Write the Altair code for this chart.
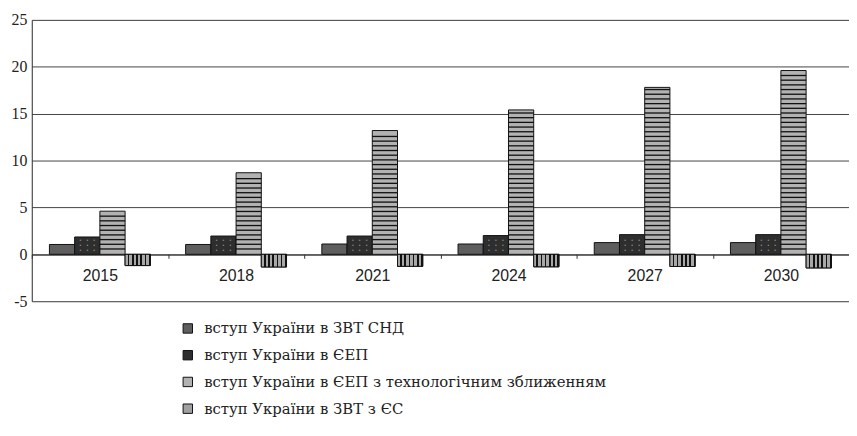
import altair as alt
import numpy as np
import pandas as pd

years = ["2015", "2018", "2021", "2024", "2027", "2030"]
series_names = [
    "вступ України в ЗВТ СНД",
    "вступ України в ЄЕП",
    "вступ України в ЄЕП з технологічним зближенням",
    "вступ України в ЗВТ з ЄС",
]
s_cis = [1.05, 1.05, 1.1, 1.1, 1.25, 1.25]
s_cep = [1.85, 1.95, 1.95, 2.0, 2.1, 2.1]
s_cep_tech = [4.6, 8.7, 13.2, 15.4, 17.8, 19.6]
s_eu = [-1.2, -1.35, -1.28, -1.33, -1.3, -1.45]
y_ticks = [-5, 0, 5, 10, 15, 20, 25]

all_series = [s_cis, s_cep, s_cep_tech, s_eu]
rows = []
for name, vals in zip(series_names, all_series):
    for yr, v in zip(years, vals):
        rows.append({"year": yr, "series": name, "value": v})
df = pd.DataFrame(rows)

# decorative hatch lines for the horizontally striped series
stripe_rows = []
for yr, v in zip(years, s_cep_tech):
    for lv in np.arange(0.5, v - 0.2, 0.5):
        stripe_rows.append({"year": yr, "series": series_names[2], "lv": float(lv), "lv2": float(lv) + 0.14})
stripes = pd.DataFrame(stripe_rows)

# decorative dots for the dotted series
dot_rows = []
for yr, v in zip(years, s_cep):
    for lv in np.arange(0.45, v - 0.2, 0.55):
        dot_rows.append({"year": yr, "series": series_names[1], "lv": float(lv)})
dots = pd.DataFrame(dot_rows)

W, H = 825, 284
xscale = alt.Scale(paddingInner=0, paddingOuter=0)
yscale = alt.Scale(domain=[-5, 25], nice=False)
colors = ["#5e5e5e", "#2e2e2e", "#b2b2b2", "#a0a0a0"]
xoff = alt.XOffset("series:N", sort=series_names, scale=alt.Scale(paddingInner=0, paddingOuter=0.7))

x_enc = alt.X("year:N", sort=years, scale=xscale, title=None,
              axis=alt.Axis(offset=-(5 / 30) * H, labelAngle=0, tickBand="extent",
                            domainColor="#333", tickColor="#333", tickSize=4,
                            labelFont="Liberation Sans", labelFontSize=16, labelColor="#222",
                            labelPadding=9, grid=False))
y_enc = alt.Y("value:Q", scale=yscale, title=None,
              axis=alt.Axis(values=y_ticks, grid=True, gridColor="#444", gridOpacity=1,
                            domainColor="#333", tickSize=0, labelPadding=5,
                            labelExpr="datum.value + ''",
                            labelFont="Liberation Serif", labelFontSize=16, labelColor="#222"))

bars = alt.Chart(df).mark_bar(stroke="#111", strokeWidth=1).encode(
    x=x_enc,
    xOffset=xoff,
    y=y_enc,
    color=alt.Color("series:N", sort=series_names,
                    scale=alt.Scale(domain=series_names, range=colors),
                    legend=alt.Legend(title=None, orient="none", legendX=150, legendY=304,
                                      direction="vertical", symbolType="square", symbolSize=90,
                                      symbolStrokeColor="#111", symbolStrokeWidth=1,
                                      labelFont="DejaVu Serif", labelFontSize=15, labelColor="#222",
                                      labelOffset=9, rowPadding=11, labelLimit=600)),
)

stops = []
n = 6
for k in range(n):
    a = k / n
    b = a + 0.62 / n
    c = (k + 1) / n
    stops += [{"offset": a, "color": "#a8a8a8"}, {"offset": b, "color": "#a8a8a8"},
              {"offset": b, "color": "#111"}, {"offset": c, "color": "#111"}]
vgrad = {"gradient": "linear", "x1": 0, "x2": 1, "y1": 0, "y2": 0, "stops": stops}

eu_bars = alt.Chart(df).transform_filter(
    alt.datum.series == series_names[3]
).mark_bar(stroke="#111", strokeWidth=1).encode(
    x=alt.X("year:N", sort=years, scale=xscale),
    xOffset=xoff,
    y=alt.Y("value:Q", scale=yscale),
    fill=alt.value(vgrad),
)

stripe_layer = alt.Chart(stripes).mark_bar(color="#111").encode(
    x=alt.X("year:N", sort=years, scale=xscale),
    xOffset=xoff,
    y=alt.Y("lv:Q", scale=yscale),
    y2="lv2:Q",
)

dot_layers = []
for dx in (-7, 0, 7):
    dot_layers.append(alt.Chart(dots).mark_text(text="•", color="#8a8a8a", fontSize=5,
                                                dx=dx, baseline="middle").encode(
        x=alt.X("year:N", sort=years, scale=xscale),
        xOffset=xoff,
        y=alt.Y("lv:Q", scale=yscale),
    ))

chart = alt.layer(bars, eu_bars, stripe_layer, *dot_layers).properties(
    width=W, height=H,
    autosize=alt.AutoSizeParams(type="none"),
    padding={"left": 24, "top": 10, "right": 0, "bottom": 126},
).configure_view(stroke=None).configure(background="white")

chart.save("out.html", embed_options={"renderer": "svg", "actions": False})
